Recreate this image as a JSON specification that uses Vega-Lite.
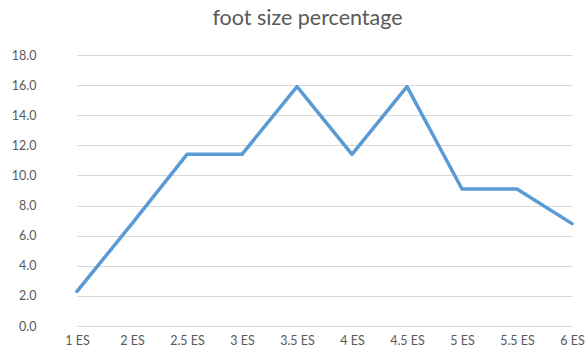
{
  "$schema": "https://vega.github.io/schema/vega-lite/v6.json",
  "width": 539,
  "height": 271,
  "autosize": {"type": "none"},
  "padding": {"left": 48, "top": 55, "right": 0, "bottom": 28},
  "background": "white",
  "title": {
    "text": "foot size percentage",
    "font": "Lato",
    "fontSize": 21.5,
    "fontWeight": "normal",
    "color": "#595959",
    "anchor": "middle",
    "dx": -10,
    "offset": 20
  },
  "data": {
    "values": [
      {"size": "1 ES", "pct": 2.3},
      {"size": "2 ES", "pct": 6.8},
      {"size": "2.5 ES", "pct": 11.4},
      {"size": "3 ES", "pct": 11.4},
      {"size": "3.5 ES", "pct": 15.9},
      {"size": "4 ES", "pct": 11.4},
      {"size": "4.5 ES", "pct": 15.9},
      {"size": "5 ES", "pct": 9.1},
      {"size": "5.5 ES", "pct": 9.1},
      {"size": "6 ES", "pct": 6.8}
    ]
  },
  "mark": {"type": "line", "color": "#5B9BD5", "strokeWidth": 3.5, "strokeCap": "round", "strokeJoin": "round"},
  "encoding": {
    "x": {
      "field": "size",
      "type": "ordinal",
      "sort": null,
      "scale": {"type": "point", "range": [29, 524], "padding": 0},
      "axis": {
        "title": null,
        "labelAngle": 0,
        "labelFont": "Lato",
        "labelFontSize": 12.5,
        "labelColor": "#595959",
        "labelPadding": 8,
        "ticks": false,
        "domain": false,
        "grid": false
      }
    },
    "y": {
      "field": "pct",
      "type": "quantitative",
      "scale": {"domain": [0, 18]},
      "axis": {
        "title": null,
        "values": [0, 2, 4, 6, 8, 10, 12, 14, 16, 18],
        "format": ".1f",
        "labelFont": "Lato",
        "labelFontSize": 12.5,
        "labelColor": "#595959",
        "labelPadding": 12,
        "ticks": false,
        "domain": false,
        "grid": true,
        "gridColor": "#D9D9D9",
        "gridWidth": 1
      }
    }
  },
  "config": {"view": {"stroke": null}}
}
